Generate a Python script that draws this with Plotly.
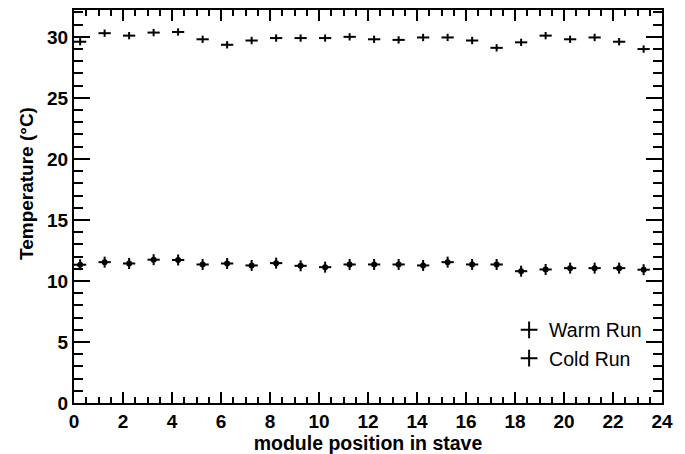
import plotly.graph_objects as go

# module positions (centre of each module bin)
positions = [i + 0.25 for i in range(24)]

warm_run = [29.6, 30.3, 30.1, 30.35, 30.4, 29.8, 29.35, 29.7, 29.9, 29.9, 29.9, 30.0,
            29.8, 29.75, 29.95, 29.95, 29.7, 29.1, 29.55, 30.1, 29.8, 29.95, 29.6, 29.0]
cold_run = [11.33, 11.54, 11.43, 11.74, 11.72, 11.35, 11.43, 11.27, 11.46, 11.24, 11.13, 11.35,
            11.35, 11.35, 11.27, 11.54, 11.35, 11.35, 10.8, 10.94, 11.05, 11.05, 11.05, 10.92]

x_err = [0.25] * 24
warm_err = [0.3] * 24
cold_err = [0.45] * 24

FONT = "Liberation Sans"

fig = go.Figure()

fig.add_trace(go.Scatter(
    x=positions, y=warm_run, mode="markers", name="Warm Run", showlegend=False,
    marker=dict(size=1, color="black"),
    error_x=dict(type="data", array=x_err, width=0, thickness=2, color="black"),
    error_y=dict(type="data", array=warm_err, width=0, thickness=2, color="black"),
))
fig.add_trace(go.Scatter(
    x=positions, y=cold_run, mode="markers", name="Cold Run", showlegend=False,
    marker=dict(size=6, color="black", symbol="circle"),
    error_x=dict(type="data", array=x_err, width=0, thickness=2, color="black"),
    error_y=dict(type="data", array=cold_err, width=0, thickness=2, color="black"),
))

# legend entries
fig.add_trace(go.Scatter(
    x=[None], y=[None], mode="markers", name="Warm Run",
    marker=dict(symbol="cross-thin", size=12, color="black", line=dict(width=2, color="black")),
))
fig.add_trace(go.Scatter(
    x=[None], y=[None], mode="markers", name="Cold Run",
    marker=dict(symbol="cross-thin", size=12, color="black", line=dict(width=2, color="black")),
))

fig.update_layout(
    width=685, height=454,
    margin=dict(l=66, r=31, t=2, b=59),
    paper_bgcolor="white", plot_bgcolor="white",
    font=dict(family=FONT, color="black"),
    showlegend=True,
    legend=dict(x=0.740, xanchor="left", y=0.235, yanchor="top",
                bgcolor="rgba(0,0,0,0)", font=dict(size=19.5, family=FONT),
                itemwidth=30, tracegroupgap=0),
    xaxis=dict(
        range=[0, 24], tickmode="linear", tick0=0, dtick=2, automargin=False,
        ticks="inside", ticklen=11, tickwidth=2, tickcolor="black",
        minor=dict(dtick=0.5, ticks="inside", ticklen=6, tickwidth=2, tickcolor="black"),
        showline=True, linewidth=2, linecolor="black", mirror="ticks",
        showgrid=False, zeroline=False,
        tickfont=dict(size=19, family=FONT, weight="bold"),
        title=dict(text="module position in stave",
                   font=dict(size=19.5, family=FONT, weight="bold"), standoff=4),
    ),
    yaxis=dict(
        range=[0, 32.2], tickmode="linear", tick0=0, dtick=5, automargin=False,
        ticks="inside", ticklen=16, tickwidth=2, tickcolor="black",
        minor=dict(dtick=1, ticks="inside", ticklen=9, tickwidth=2, tickcolor="black"),
        showline=True, linewidth=2, linecolor="black", mirror="ticks",
        showgrid=False, zeroline=False,
        tickfont=dict(size=19, family=FONT, weight="bold"),
    ),
    annotations=[dict(
        text="Temperature (°C)", xref="paper", yref="paper",
        x=-(74 - 27) / 588, y=(403 - 184) / 393, xanchor="center", yanchor="middle",
        textangle=-90, showarrow=False,
        font=dict(size=19, family=FONT, weight="bold"),
    )],
)

fig.write_html("out.html")
